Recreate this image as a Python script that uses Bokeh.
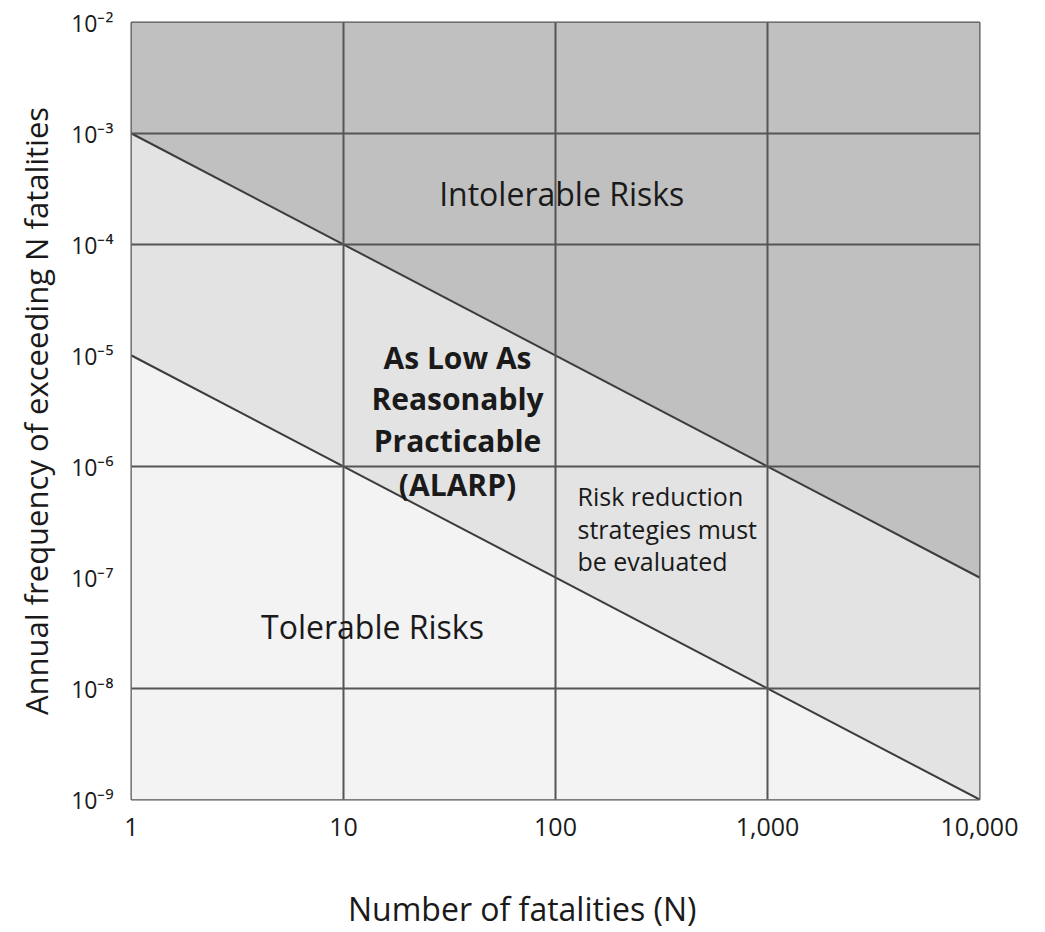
from bokeh.plotting import figure
from bokeh.models import FixedTicker, Range1d
from bokeh.core.properties import value
from bokeh.embed import file_html
from bokeh.resources import INLINE

# ---- data ----
x_ticks = [1, 10, 100, 1000, 10000]
x_labels = ["1", "10", "100", "1,000", "10,000"]
y_ticks = [1e-9, 1e-8, 1e-7, 1e-6, 1e-5, 1e-4, 1e-3, 1e-2]
y_labels = ["10⁻⁹", "10⁻⁸", "10⁻⁷", "10⁻⁶", "10⁻⁵", "10⁻⁴", "10⁻³", "10⁻²"]
x_grid = [10, 100, 1000]
y_grid = [1e-3, 1e-4, 1e-6, 1e-8]

n_limits = [1, 10000]                 # N range of criterion lines
upper_limit = [1e-3, 1e-7]            # intolerable boundary
lower_limit = [1e-5, 1e-9]            # tolerable boundary
f_top = 1e-2
f_bottom = 1e-9

FONT = "Open Sans"
TXT = "#1a1a1a"

p = figure(x_axis_type="log", y_axis_type="log",
           x_range=Range1d(n_limits[0], n_limits[1]),
           y_range=Range1d(f_bottom, f_top),
           width=1037, height=932,
           min_border_left=131, min_border_right=58,
           min_border_top=22, min_border_bottom=132,
           output_backend="svg", toolbar_location=None)
p.background_fill_color = None
p.border_fill_color = "white"
p.outline_line_color = "#555555"
p.outline_line_width = 2

# regions
x0, x1 = n_limits
p.patch([x0, x1, x1, x0], [f_top, f_top, upper_limit[1], upper_limit[0]],
        fill_color="#c0c0c0", line_color=None)
p.patch([x0, x1, x1, x0], [upper_limit[0], upper_limit[1], lower_limit[1], lower_limit[0]],
        fill_color="#e3e3e3", line_color=None)
p.patch([x0, x1, x0], [lower_limit[0], lower_limit[1], f_bottom],
        fill_color="#f3f3f3", line_color=None)

# criterion lines
p.line(n_limits, upper_limit, line_color="#3c3c3c", line_width=2)
p.line(n_limits, lower_limit, line_color="#3c3c3c", line_width=2)

# grid
p.xgrid.ticker = FixedTicker(ticks=x_grid)
p.ygrid.ticker = FixedTicker(ticks=y_grid)
for g in (p.xgrid, p.ygrid):
    g.grid_line_color = "#555555"
    g.grid_line_width = 2
    g.level = "guide"

# axes
p.xaxis.ticker = FixedTicker(ticks=x_ticks)
p.xaxis.major_label_overrides = {t: l for t, l in zip(x_ticks, x_labels)}
p.yaxis.ticker = FixedTicker(ticks=y_ticks)
p.yaxis.major_label_overrides = {t: l for t, l in zip(y_ticks, y_labels)}
for ax in (p.xaxis, p.yaxis):
    ax.axis_line_color = None
    ax.major_tick_line_color = None
    ax.minor_tick_line_color = None
    ax.major_label_text_font = FONT
    ax.major_label_text_color = TXT
    ax.axis_label_text_font = FONT
    ax.axis_label_text_font_style = "normal"
    ax.axis_label_text_color = TXT
p.xaxis.major_label_text_font_size = "25px"
p.yaxis.major_label_text_font_size = "23px"
p.xaxis.axis_label_text_font_size = "32px"
p.yaxis.axis_label_text_font_size = "31px"
p.xaxis.major_label_standoff = 12
p.yaxis.major_label_standoff = 12
# trailing non-breaking spaces shift the centred title slightly left, as in the original
p.xaxis.axis_label = "Number of fatalities (N)" + "\u00a0" * 8
p.yaxis.axis_label = "Annual frequency of exceeding N fatalities"
p.xaxis.axis_label_standoff = 48
p.yaxis.axis_label_standoff = 11

# region labels
p.text(x=[107, 13.7], y=[2.9e-4, 3.6e-8], text=["Intolerable Risks", "Tolerable Risks"],
       text_font=value(FONT), text_font_size="32px", text_color=TXT,
       text_align="center", text_baseline="middle", level="overlay")
p.text(x=[34.5] * 4, y=[10**-5.02, 10**-5.39, 10**-5.765, 10**-6.16],
       text=["As Low As", "Reasonably", "Practicable", "(ALARP)"],
       text_font=value(FONT), text_font_size="30px", text_font_style="bold",
       text_color=TXT, text_align="center", text_baseline="middle", level="overlay")
p.text(x=[127] * 3, y=[10**-6.265, 10**-6.562, 10**-6.85],
       text=["Risk reduction", "strategies must", "be evaluated"],
       text_font=value(FONT), text_font_size="25px", text_color=TXT,
       text_align="left", text_baseline="middle", level="overlay")

open("out.html", "w").write(file_html(p, INLINE))
